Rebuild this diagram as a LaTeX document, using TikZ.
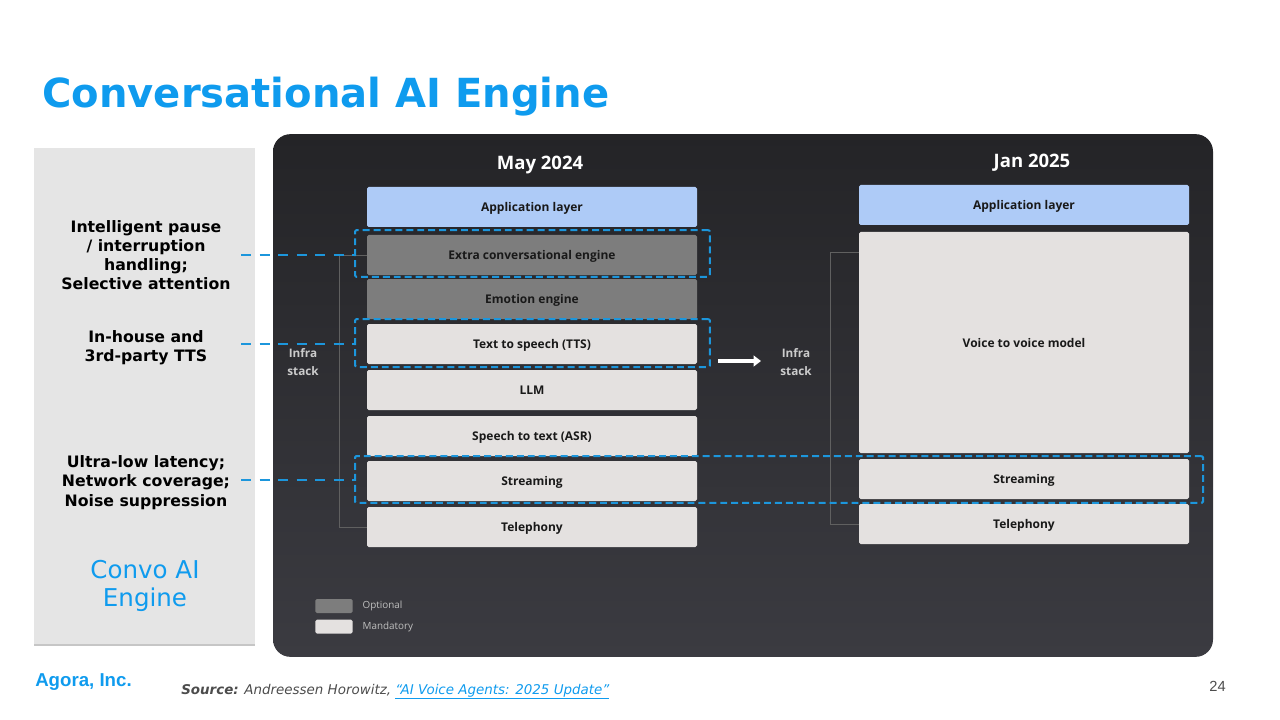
\documentclass[tikz,border=0pt]{standalone}
\usepackage{fontspec}
\usepackage{xcolor}
\setmainfont{DejaVu Sans}
\newfontfamily\stackfont{Open Sans}
\newfontfamily\agorafont{Liberation Sans}
\usetikzlibrary{positioning,arrows.meta,shadows}
\definecolor{agoraBlue}{HTML}{0F9BEE}
\definecolor{leadBlue}{HTML}{1C96DC}
\definecolor{appBlue}{HTML}{AECBF7}
\definecolor{optGray}{HTML}{7D7D7D}
\definecolor{manGray}{HTML}{E4E1E0}
\definecolor{panelTop}{HTML}{242427}
\definecolor{panelBot}{HTML}{3B3B41}
\tikzset{
  stackbox/.style={rectangle, rounded corners=1.2pt, minimum width=247.5pt, minimum height=30pt,
    inner sep=0pt, outer sep=0pt, text height=7.9pt, text depth=.7pt, text=black!90,
    font=\stackfont\bfseries\fontsize{9}{11}\selectfont},
  appbox/.style={stackbox, fill=appBlue},
  optbox/.style={stackbox, fill=optGray},
  manbox/.style={stackbox, fill=manGray},
  legendbox/.style={rectangle, rounded corners=1.2pt, minimum width=28pt, minimum height=10.5pt, inner sep=0pt, outer sep=0pt},
  dashbox/.style={rectangle, draw=leadBlue, line width=1.5pt, rounded corners=1pt, dash pattern=on 5.2pt off 3pt, inner sep=0pt},
  leader/.style={draw=leadBlue, line width=2pt, dash pattern=on 7.5pt off 6.4pt},
  bracket/.style={draw=gray!75!black, line width=.6pt},
  note/.style={align=center, font=\bfseries\fontsize{11.8}{14.4}\selectfont, text=black},
  infra/.style={align=center, text=white!80!black, font=\stackfont\bfseries\fontsize{8.8}{14}\selectfont},
  heading/.style={text=white, font=\stackfont\bfseries\fontsize{13.9}{16}\selectfont},
  legendtext/.style={anchor=west, text=white!75!black, font=\stackfont\fontsize{7.4}{9}\selectfont}
}
\begin{document}
\begin{tikzpicture}[x=.75pt, y=-.75pt]
  \useasboundingbox (0,0) rectangle (1280,720);

  \node[anchor=base west, inner sep=0pt, text=agoraBlue, font=\bfseries\fontsize{30.05}{34}\selectfont] (title) at (42,108) {Conversational AI Engine};

  % left column
  \node[rectangle, fill=black!10, drop shadow={shadow xshift=0pt, shadow yshift=-1.5pt, opacity=.45},
    minimum width=166pt, minimum height=372pt, inner sep=0pt] (side) at (144.5,396) {};
  \node[note] (note1) at (146,255) {Intelligent pause\\/ interruption\\handling;\\Selective attention};
  \node[note] (note2) at (146,347.5) {In-house and\\3rd-party TTS};
  \node[note] (note3) at (146,482.5) {Ultra-low latency;\\Network coverage;\\Noise suppression};
  \node[align=center, text=agoraBlue, font=\fontsize{18.4}{21}\selectfont] (convo) at (145,586) {Convo AI\\Engine};

  % dark panel
  \node[rectangle, rounded corners=13pt, top color=panelTop, bottom color=panelBot,
    minimum width=705pt, minimum height=392pt, inner sep=0pt] (panel) at (743,395.5) {};

  \node[heading] (may) at (540,165) {May 2024};
  \node[heading] (jan) at (1032,163) {Jan 2025};

  % May 2024 stack
  \node[appbox] (app) at (532,207) {Application layer};
  \node[optbox, below=6pt of app] (extra) {Extra conversational engine};
  \node[optbox, below=3pt of extra] (emotion) {Emotion engine};
  \node[manbox, below=3.75pt of emotion] (tts) {Text to speech (TTS)};
  \node[manbox, below=4.5pt of tts] (llm) {LLM};
  \node[manbox, below=4.5pt of llm] (asr) {Speech to text (ASR)};
  \node[manbox, below=3.75pt of asr] (stream) {Streaming};
  \node[manbox, below=4.5pt of stream] (tele) {Telephony};

  % Jan 2025 stack
  \node[appbox] (app2) at (1024,205) {Application layer};
  \node[manbox, minimum height=165.75pt, below=5.25pt of app2] (voice) {Voice to voice model};
  \node[manbox, below=4.5pt of voice] (stream2) {Streaming};
  \node[manbox, below=3.75pt of stream2] (tele2) {Telephony};

  \node[infra] (infra1) at (303,362) {Infra\\stack};
  \node[infra] (infra2) at (796,362) {Infra\\stack};

  \draw[bracket] (extra.west) -- ++(-28,0) |- (tele.west);
  \draw[bracket] ([yshift=-15pt]voice.north west) -- ++(-29,0) |- (tele2.west);

  % legend
  \node[legendbox, fill=optGray] (optkey) at (334,606) {};
  \node[legendbox, fill=manGray, below=5pt of optkey] (mankey) {};
  \node[legendtext] (optlab) at (358,606) {Optional};
  \node[legendtext] (manlab) at (358,627) {Mandatory};

  \coordinate (arrowfrom) at (718,361);
  \coordinate (arrowto) at (761,361);
  \draw[white, line width=2.8pt, -{Triangle[length=5.5pt,width=8pt]}] (arrowfrom) -- (arrowto);

  % dashed highlights
  \node[dashbox, minimum width=266pt, minimum height=35.2pt] (dash1) at (532.5,253.5) {};
  \node[dashbox, minimum width=266pt, minimum height=36pt] (dash2) at (532.5,343) {};
  \node[dashbox, minimum width=636pt, minimum height=35.2pt] (dash3) at (779,479.5) {};
  \coordinate (lead1) at (241,255);
  \coordinate (lead2) at (241,344);
  \coordinate (lead3) at (241,480);
  \draw[leader] (lead1) -- (lead1 -| dash1.west);
  \draw[leader] (lead2) -- (lead2 -| dash2.west);
  \draw[leader] (lead3) -- (lead3 -| dash3.west);

  % footer
  \node[anchor=base west, inner sep=0pt, text=agoraBlue, font=\agorafont\bfseries\fontsize{14}{16}\selectfont] (agora) at (35,686) {Agora, Inc.};
  \node[anchor=base west, inner sep=0pt, text=black!70, font=\itshape\fontsize{10.07}{12}\selectfont] (source) at (181,694)
    {\textbf{Source:} Andreessen Horowitz, \textcolor{agoraBlue}{\underline{“AI Voice Agents: 2025 Update”}}};
  \node[anchor=base east, inner sep=0pt, text=black!70, font=\agorafont\fontsize{11}{13}\selectfont] (pagenum) at (1226,691) {24};
\end{tikzpicture}
\end{document}
